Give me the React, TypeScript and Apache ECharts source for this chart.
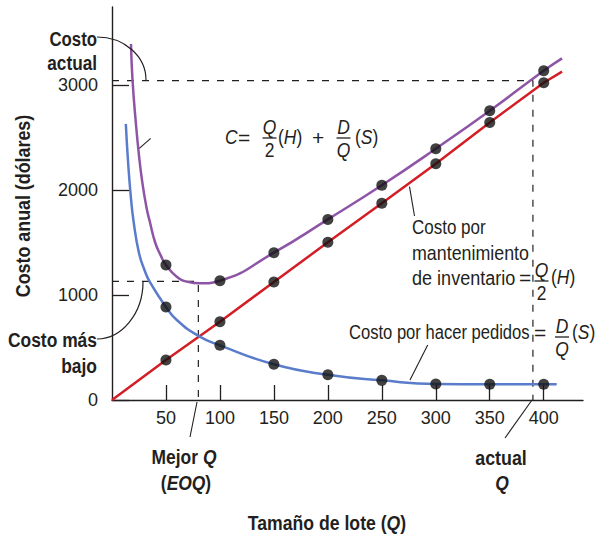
import React, { useEffect, useRef } from "react";
import * as echarts from "echarts";

// Marked lot sizes (Q) and the costs read at them
const lotSizes = [50, 100, 150, 200, 250, 300, 350, 400];
const holdingCost = [381, 746, 1124, 1502, 1873, 2251, 2644, 3022];
const orderingCost = [886, 521, 340, 240, 187, 152, 150, 150];
const totalCost = [1286, 1136, 1403, 1720, 2045, 2393, 2755, 3136];

// Holding-cost line
const holdingLineQ = [0, 50, 100, 150, 200, 250, 300, 350, 400, 417];
const holdingLineC = [0, 381, 746, 1124, 1502, 1873, 2251, 2644, 3022, 3128];

// Ordering-cost curve
const orderingCurveQ = [12.8, 15, 17.5, 20, 25, 30, 35, 50, 60, 80, 100, 150, 200, 250, 300, 350, 400, 412];
const orderingCurveC = [2630, 2250, 1930, 1700, 1400, 1240, 1125, 886, 762, 610, 521, 340, 240, 187, 152, 150, 150, 150];

// Total-cost curve
const totalCurveQ = [17.6, 19, 22, 25, 28, 32, 35, 40, 45, 50, 60, 70, 81.7, 100, 150, 200, 250, 300, 350, 400, 417];
const totalCurveC = [3390, 3050, 2650, 2330, 2080, 1830, 1700, 1500, 1380, 1286, 1174, 1125, 1111, 1136, 1403, 1720, 2045, 2393, 2755, 3136, 3254];

// Reference values
const eoqQ = 80;
const lowestCost = 1130;
const actualQ = 390;
const actualCost = 3041;

// Axis ticks
const yTicks = [0, 1000, 2000, 3000];
const xTicks = [50, 100, 150, 200, 250, 300, 350, 400];

const FONT = '"Liberation Sans", Arial, sans-serif';
const INK = "#231f20";
const PURPLE = "#8e55a6";
const BLUE = "#5a7ccb";
const RED = "#d41e26";

const zip = (a: number[], b: number[]) => a.map((v, i) => [v, b[i]]);

function txt(x: number, y: number, text: string, opts: any = {}) {
  return {
    type: "text",
    x,
    y,
    z: 100,
    scaleX: opts.sx ?? 0.83,
    rotation: opts.rotation ?? 0,
    style: {
      text,
      fontFamily: FONT,
      fontSize: opts.fontSize ?? 21,
      fontWeight: opts.fontWeight ?? "normal",
      fontStyle: opts.fontStyle ?? "normal",
      fill: INK,
      align: opts.align ?? "left",
      verticalAlign: "middle",
      rich: opts.rich,
    },
  };
}

function frac(cx: number, barY: number, top: string, bottom: string, half = 7) {
  return [
    txt(cx, barY - 11, top, { align: "center", fontStyle: "italic" }),
    {
      type: "line",
      z: 100,
      shape: { x1: cx - half, y1: barY, x2: cx + half, y2: barY },
      style: { stroke: INK, lineWidth: 1.3 },
    },
    txt(cx, barY + 12, bottom, { align: "center", fontStyle: bottom === "2" ? "normal" : "italic" }),
  ];
}

function seg(x1: number, y1: number, x2: number, y2: number) {
  return { type: "line", z: 100, shape: { x1, y1, x2, y2 }, style: { stroke: INK, lineWidth: 1.1 } };
}

const richN = { fontFamily: FONT, fontSize: 21, fill: INK };
const richI = { fontFamily: FONT, fontSize: 21, fill: INK, fontStyle: "italic" };
const richB = { fontFamily: FONT, fontSize: 21, fill: INK, fontWeight: "bold" };
const richBI = { fontFamily: FONT, fontSize: 21, fill: INK, fontWeight: "bold", fontStyle: "italic" };

export default function App() {
  const ref = useRef<HTMLDivElement>(null);

  useEffect(() => {
    if (!ref.current) return;
    const chart = echarts.init(ref.current, null, { renderer: "svg" });

    const dashed = { color: INK, width: 1.2, type: [7, 8] as any };

    const graphic: any[] = [
      // y-axis title
      txt(22, 206, "Costo anual (dólares)", { fontWeight: "bold", align: "center", rotation: Math.PI / 2, sx: 0.85 }),
      // x-axis title
      txt(327, 522, "{b|Tamaño de lote (}{bi|Q}{b|)}", { align: "center", rich: { b: richB, bi: richBI }, sx: 0.84 }),
      // Costo actual
      txt(97, 39, "Costo", { fontWeight: "bold", align: "right", sx: 0.8 }),
      txt(97, 63, "actual", { fontWeight: "bold", align: "right", sx: 0.82 }),
      {
        type: "bezierCurve",
        z: 100,
        shape: { x1: 97, y1: 37, cpx1: 124, cpy1: 37, cpx2: 146, cpy2: 56, x2: 146, y2: 80 },
        style: { stroke: INK, lineWidth: 1.2, fill: "none" },
      },
      // Costo más bajo
      txt(97, 340, "Costo más", { fontWeight: "bold", align: "right", sx: 0.83 }),
      txt(97, 366, "bajo", { fontWeight: "bold", align: "right", sx: 0.83 }),
      {
        type: "bezierCurve",
        z: 100,
        shape: { x1: 97, y1: 339, cpx1: 122, cpy1: 339, cpx2: 143, cpy2: 313, x2: 143, y2: 282 },
        style: { stroke: INK, lineWidth: 1.2, fill: "none" },
      },
      // Mejor Q (EOQ)
      txt(184, 457, "{b|Mejor }{bi|Q}", { align: "center", rich: { b: richB, bi: richBI } }),
      txt(186, 483, "{b|(}{bi|EOQ}{b|)}", { align: "center", rich: { b: richB, bi: richBI } }),
      seg(197, 402, 190, 437),
      // actual Q
      txt(501, 457, "actual", { fontWeight: "bold", align: "center", sx: 0.85 }),
      txt(502, 483, "Q", { fontWeight: "bold", fontStyle: "italic", align: "center" }),
      seg(532, 400, 505, 438),
      // total cost formula
      txt(225, 137, "C", { fontStyle: "italic" }),
      txt(238, 137, "=", { sx: 1 }),
      ...frac(269.5, 138, "Q", "2"),
      txt(278, 137, "{n|(}{i|H}{n|)}", { rich: { n: richN, i: richI } }),
      txt(318, 137, "+", { align: "center", sx: 1 }),
      ...frac(343.5, 138, "D", "Q"),
      txt(355, 137, "{n|(}{i|S}{n|)}", { rich: { n: richN, i: richI } }),
      seg(139.3, 148.3, 150.7, 138.3),
      // holding cost label
      txt(412, 227, "Costo por", { sx: 0.81 }),
      txt(412, 252, "mantenimiento", { sx: 0.85 }),
      txt(412, 277, "de inventario", { sx: 0.86 }),
      txt(519, 277, "=", { sx: 1 }),
      ...frac(541.5, 281, "Q", "2"),
      txt(551, 277, "{n|(}{i|H}{n|)}", { rich: { n: richN, i: richI } }),
      seg(409.5, 186.7, 414.5, 216),
      // ordering cost label
      txt(349, 332, "Costo por hacer pedidos", { sx: 0.79 }),
      txt(534, 332, "=", { sx: 1 }),
      ...frac(562, 337, "D", "Q"),
      txt(572, 332, "{n|(}{i|S}{n|)}", { rich: { n: richN, i: richI } }),
      seg(427.7, 345, 410, 380),
    ];

    const dotStyle = { color: "#111" };

    chart.setOption({
      animation: false,
      backgroundColor: "#ffffff",
      grid: { left: 112, right: 16, top: 7, bottom: 135, containLabel: false, outerBoundsMode: "none" },
      xAxis: {
        type: "value",
        min: 0,
        max: 436.4,
        interval: 50,
        splitLine: { show: false },
        axisLine: { show: true, lineStyle: { color: INK, width: 1.4 } },
        axisTick: {
          show: true,
          inside: true,
          length: 15,
          lineStyle: { color: INK, width: 1.3 },
          customValues: xTicks,
        },
        axisLabel: {
          customValues: xTicks,
          fontFamily: FONT,
          fontSize: 18,
          color: INK,
          margin: 9,
          formatter: (v: number) => (xTicks.includes(v) ? String(v) : ""),
        },
      },
      yAxis: {
        type: "value",
        min: 0,
        max: 3743,
        interval: 1000,
        splitLine: { show: false },
        axisLine: { show: true, lineStyle: { color: INK, width: 1.4 } },
        axisTick: {
          show: true,
          inside: true,
          length: 17,
          lineStyle: { color: INK, width: 1.3 },
          customValues: yTicks,
        },
        axisLabel: {
          customValues: yTicks,
          fontFamily: FONT,
          fontSize: 18,
          color: INK,
          margin: 14,
          formatter: (v: number) => (yTicks.includes(v) ? String(v) : ""),
        },
      },
      graphic,
      series: [
        {
          type: "line",
          data: zip(holdingLineQ, holdingLineC),
          symbol: "none",
          lineStyle: { color: RED, width: 2.5 },
          z: 3,
        },
        {
          type: "line",
          data: zip(orderingCurveQ, orderingCurveC),
          symbol: "none",
          smooth: 0.5,
          lineStyle: { color: BLUE, width: 2.5 },
          z: 3,
        },
        {
          type: "line",
          data: zip(totalCurveQ, totalCurveC),
          symbol: "none",
          smooth: 0.5,
          lineStyle: { color: PURPLE, width: 2.5 },
          z: 3,
        },
        {
          type: "line",
          data: [
            [0, lowestCost],
            [eoqQ, lowestCost],
            [eoqQ, 0],
          ],
          symbol: "none",
          lineStyle: dashed,
          z: 2,
        },
        {
          type: "line",
          data: [
            [0, actualCost],
            [actualQ, actualCost],
            [actualQ, 0],
          ],
          symbol: "none",
          lineStyle: dashed,
          z: 2,
        },
        {
          type: "scatter",
          data: zip(lotSizes, holdingCost),
          symbolSize: 11,
          itemStyle: dotStyle,
          z: 5,
        },
        {
          type: "scatter",
          data: zip(lotSizes, orderingCost),
          symbolSize: 11,
          itemStyle: dotStyle,
          z: 5,
        },
        {
          type: "scatter",
          data: zip(lotSizes, totalCost),
          symbolSize: 11,
          itemStyle: dotStyle,
          z: 5,
        },
      ],
    });

    return () => chart.dispose();
  }, []);

  return (
    <div
      ref={ref}
      style={{ position: "fixed", left: 0, top: 0, width: 599, height: 535, background: "#fff" }}
    />
  );
}
